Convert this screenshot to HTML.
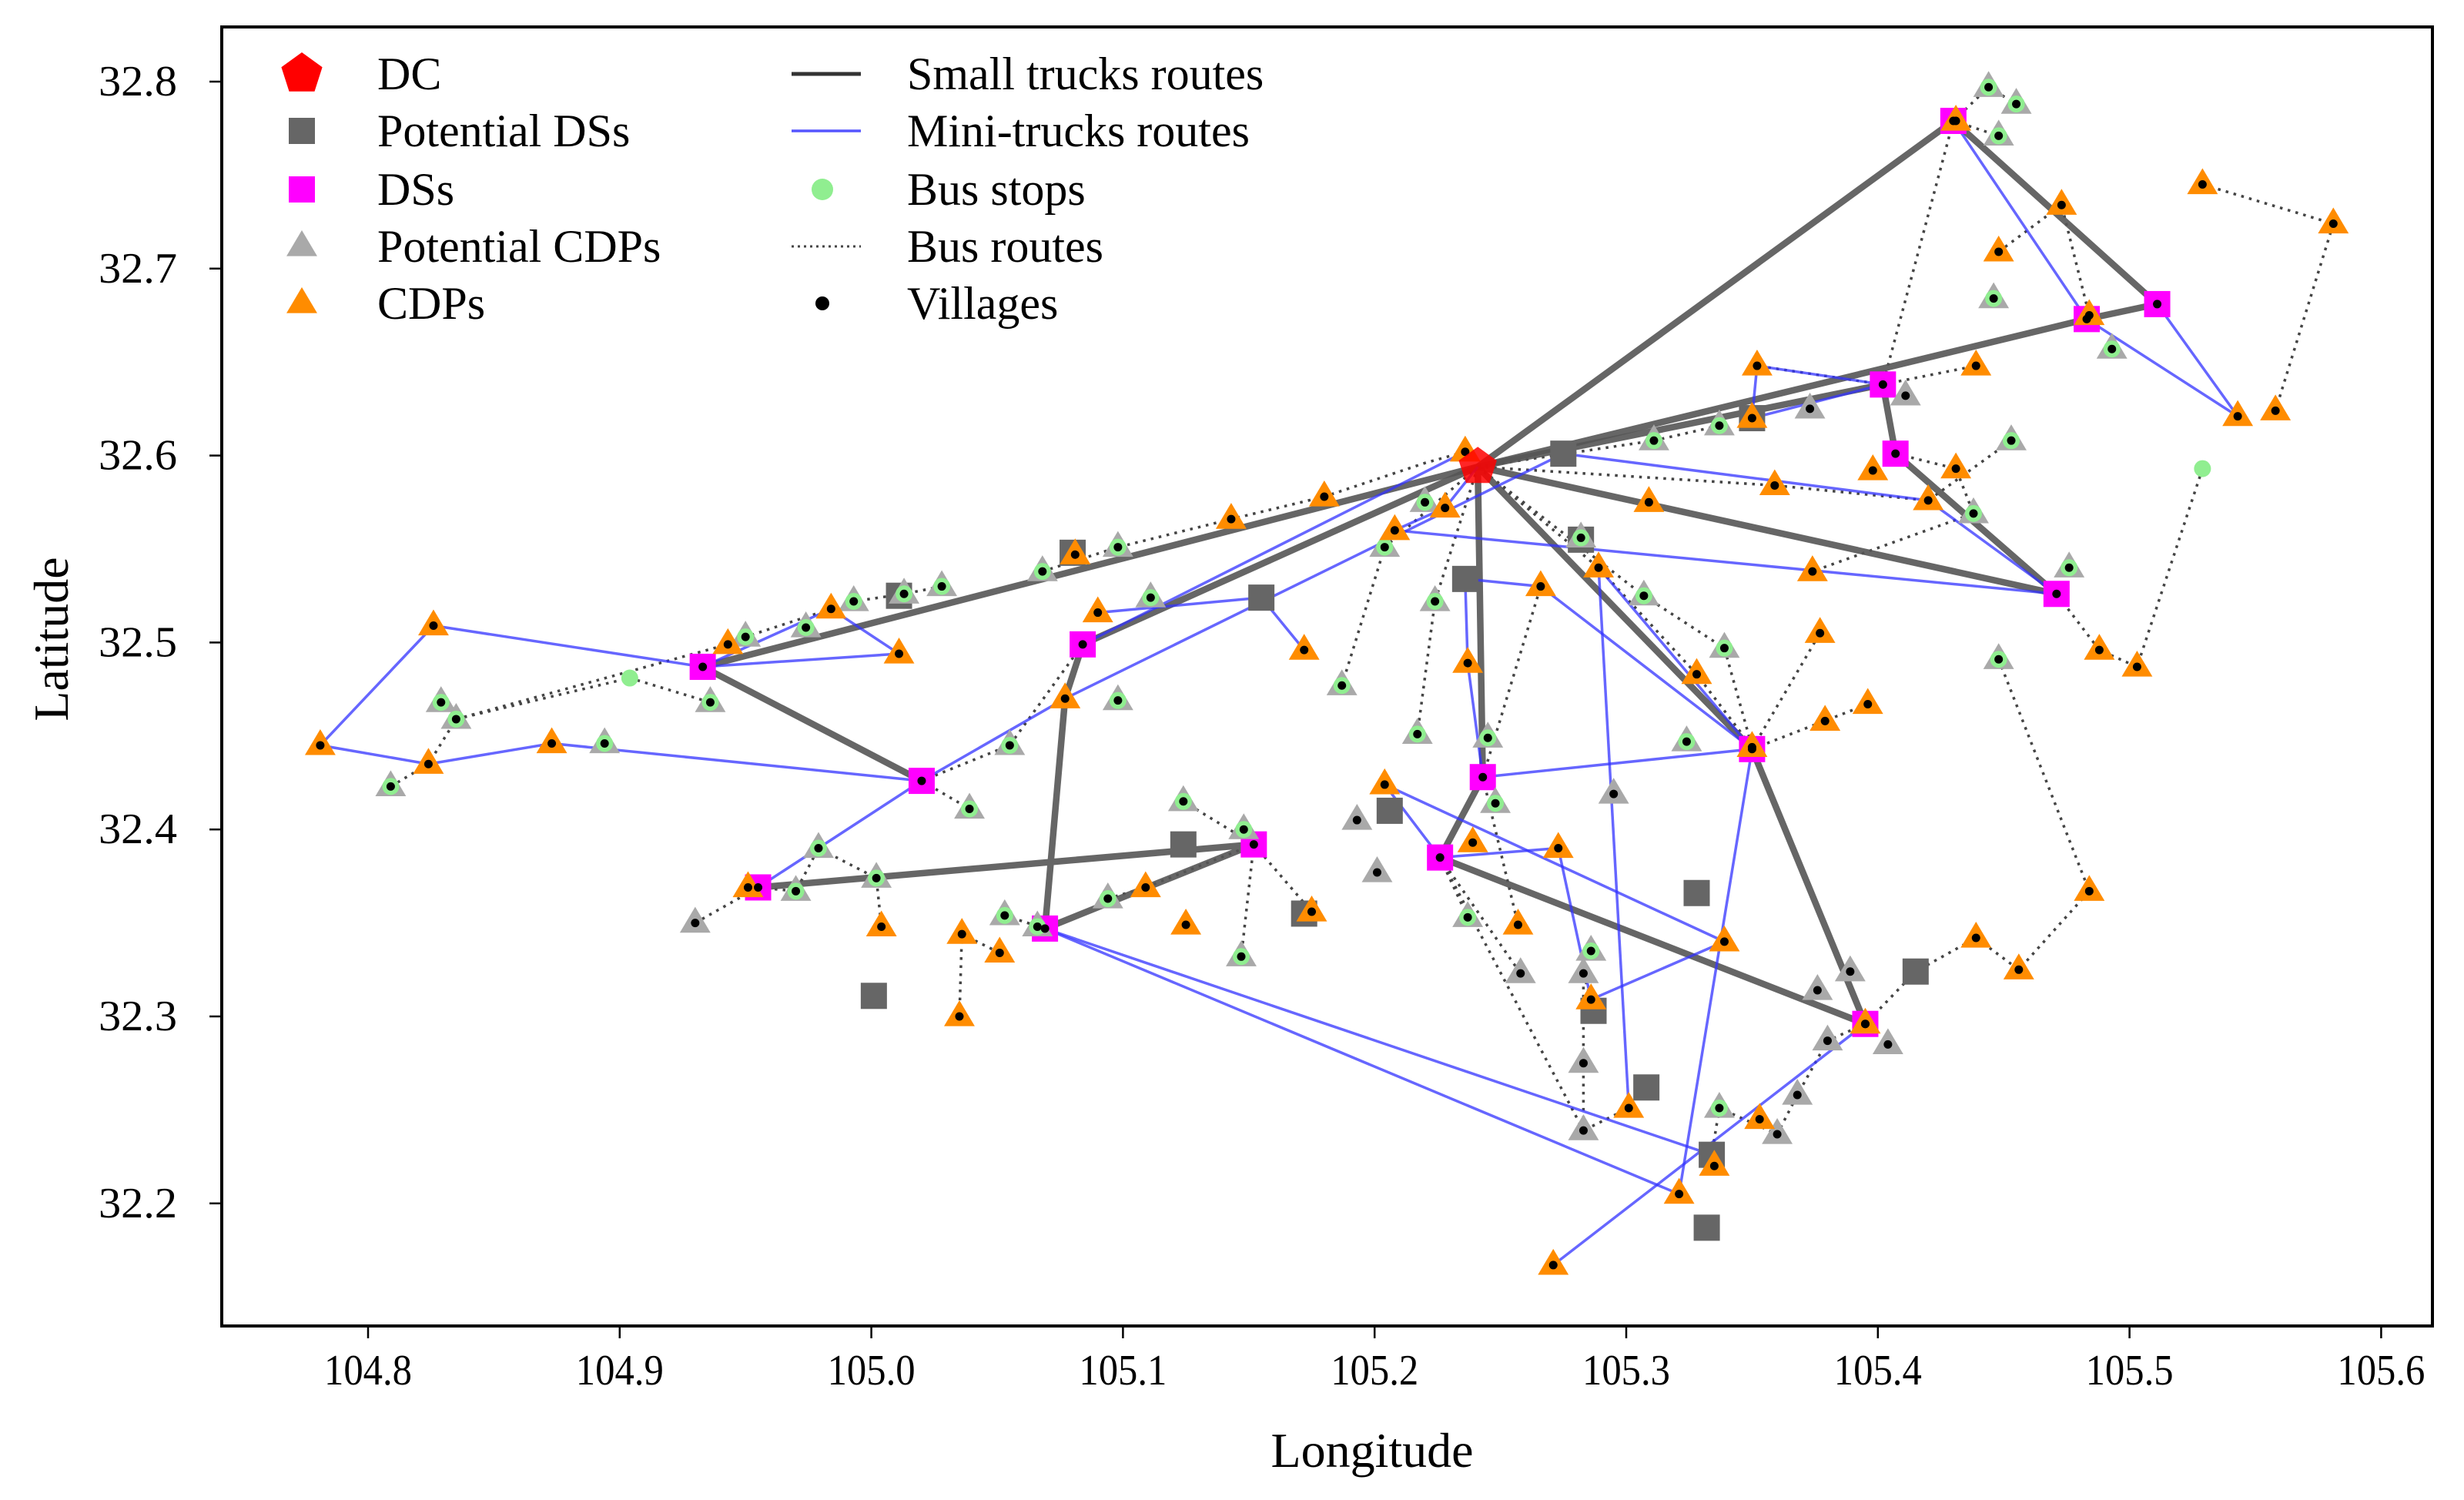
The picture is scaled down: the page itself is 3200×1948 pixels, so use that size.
<!DOCTYPE html>
<html><head><meta charset="utf-8">
<style>
html,body{margin:0;padding:0;background:#fff;}
svg{display:block;font-family:"Liberation Serif","DejaVu Serif",serif;}
</style></head>
<body>
<svg id="chart" width="3200" height="1948" viewBox="0 0 3200 1948" xmlns="http://www.w3.org/2000/svg">
<rect x="0" y="0" width="3200" height="1948" fill="#fff"/>
<g id="plot"></g>
<g id="axes"></g>
<g id="legend"></g>
</svg>
<script>
const xTicks=[104.8,104.9,105.0,105.1,105.2,105.3,105.4,105.5,105.6];
const xTickLabels=["104.8","104.9","105.0","105.1","105.2","105.3","105.4","105.5","105.6"];
const yTicks=[32.2,32.3,32.4,32.5,32.6,32.7,32.8];
const yTickLabels=["32.2","32.3","32.4","32.5","32.6","32.7","32.8"];
const dcPoint=[105.241,32.594];
const dsPoints=[[105.430,32.779],[105.511,32.681],[105.483,32.673],[105.402,32.638],[105.407,32.601],[105.471,32.526],[104.933,32.487],[105.020,32.426],[105.084,32.499],[105.350,32.443],[105.243,32.428],[105.226,32.385],[105.152,32.392],[104.955,32.369],[105.069,32.347],[105.395,32.296]];
const potentialDsPoints=[[105.080,32.548],[105.011,32.525],[105.155,32.524],[105.275,32.601],[105.282,32.555],[105.236,32.534],[105.350,32.620],[105.206,32.410],[105.124,32.392],[105.172,32.355],[105.328,32.366],[105.001,32.311],[105.287,32.303],[105.415,32.324],[105.308,32.262],[105.334,32.226],[105.332,32.187]];
const cdpPoints=[[104.781,32.445],[104.826,32.509],[104.824,32.435],[104.873,32.446],[104.943,32.499],[104.984,32.518],[105.011,32.494],[104.951,32.369],[105.004,32.348],[105.036,32.344],[105.051,32.334],[105.035,32.300],[105.081,32.547],[105.090,32.516],[105.077,32.470],[105.109,32.369],[105.125,32.349],[105.175,32.356],[105.143,32.566],[105.180,32.578],[105.208,32.560],[105.172,32.496],[105.236,32.602],[105.228,32.572],[105.204,32.424],[105.237,32.489],[105.266,32.530],[105.239,32.393],[105.273,32.390],[105.257,32.349],[105.289,32.540],[105.309,32.575],[105.359,32.584],[105.374,32.538],[105.352,32.648],[105.350,32.444],[105.328,32.483],[105.377,32.505],[105.379,32.458],[105.396,32.467],[105.398,32.592],[105.420,32.576],[105.431,32.593],[105.439,32.648],[105.448,32.709],[105.473,32.734],[105.529,32.745],[105.581,32.724],[105.543,32.621],[105.558,32.624],[105.488,32.496],[105.503,32.487],[105.484,32.367],[105.439,32.342],[105.456,32.325],[105.339,32.340],[105.286,32.309],[105.301,32.251],[105.321,32.205],[105.335,32.220],[105.353,32.245],[105.271,32.167],[105.431,32.779],[105.484,32.675],[105.350,32.620],[105.395,32.296]];
const potentialCdpPoints=[[104.809,32.423],[104.829,32.468],[104.835,32.459],[104.894,32.446],[104.936,32.468],[104.950,32.503],[104.974,32.508],[104.993,32.522],[105.013,32.526],[105.028,32.530],[105.039,32.411],[104.979,32.390],[104.970,32.367],[105.002,32.374],[104.930,32.350],[105.053,32.354],[105.066,32.348],[105.055,32.445],[105.098,32.469],[105.111,32.524],[105.098,32.551],[105.068,32.538],[105.124,32.415],[105.148,32.400],[105.147,32.332],[105.094,32.363],[105.187,32.477],[105.193,32.405],[105.201,32.377],[105.217,32.451],[105.224,32.522],[105.237,32.353],[105.245,32.449],[105.248,32.414],[105.258,32.323],[105.283,32.323],[105.286,32.335],[105.283,32.275],[105.283,32.239],[105.295,32.419],[105.307,32.525],[105.324,32.447],[105.339,32.497],[105.311,32.608],[105.337,32.616],[105.373,32.625],[105.411,32.632],[105.453,32.608],[105.438,32.569],[105.476,32.540],[105.448,32.491],[105.444,32.797],[105.455,32.788],[105.448,32.771],[105.446,32.684],[105.493,32.657],[105.376,32.314],[105.389,32.324],[105.404,32.285],[105.380,32.287],[105.368,32.258],[105.360,32.237],[105.337,32.251],[105.204,32.551],[105.220,32.575],[105.282,32.556]];
const potentialCdpBusStop=[1,1,1,1,1,1,1,1,1,1,1,1,1,1,0,1,1,1,1,1,1,1,1,1,1,1,1,0,0,1,1,1,1,1,0,0,1,0,0,0,1,1,1,1,1,0,0,1,1,1,1,1,1,1,1,1,0,0,0,0,0,0,1,1,1,1];
const extraBusStops=[[104.904,32.481],[105.529,32.593]];
const smallTruckRoutes=[
 [[105.241,32.594],[105.430,32.779],[105.511,32.681],[105.483,32.673],[105.241,32.594]],
 [[105.241,32.594],[105.402,32.638],[105.407,32.601],[105.471,32.526],[105.241,32.594]],
 [[105.241,32.594],[105.350,32.443],[105.395,32.296],[105.226,32.385],[105.243,32.428],[105.241,32.594]],
 [[105.241,32.594],[104.933,32.487],[105.020,32.426]],
 [[105.241,32.594],[105.084,32.499],[105.077,32.470],[105.069,32.347],[105.152,32.392],[104.955,32.369]]];
const miniTruckRoutes=[
 [[105.430,32.779],[105.483,32.673],[105.543,32.621],[105.511,32.681]],
 [[105.402,32.638],[105.352,32.648],[105.350,32.620],[105.402,32.638]],
 [[105.275,32.601],[105.420,32.576],[105.471,32.526]],
 [[105.241,32.594],[105.228,32.572],[105.208,32.560],[105.471,32.526]],
 [[105.236,32.534],[105.266,32.530],[105.350,32.443]],
 [[105.236,32.534],[105.237,32.489],[105.243,32.428],[105.350,32.443]],
 [[105.289,32.540],[105.350,32.443]],
 [[105.289,32.540],[105.301,32.251]],
 [[105.350,32.443],[105.321,32.205]],
 [[105.204,32.424],[105.226,32.385],[105.273,32.390],[105.286,32.309],[105.339,32.340]],
 [[105.204,32.424],[105.339,32.340]],
 [[105.395,32.296],[105.271,32.167]],
 [[105.069,32.347],[105.334,32.226]],
 [[105.069,32.347],[105.321,32.205]],
 [[105.090,32.516],[105.155,32.524],[105.172,32.496]],
 [[105.275,32.601],[105.077,32.470],[105.020,32.426],[104.955,32.369]],
 [[105.236,32.602],[105.084,32.499]],
 [[104.933,32.487],[104.826,32.509],[104.781,32.445],[104.824,32.435],[104.873,32.446],[105.020,32.426]],
 [[104.933,32.487],[104.984,32.518],[105.011,32.494],[104.933,32.487]]];
const busRoutes=[
 [[104.809,32.423],[104.824,32.435],[104.835,32.459],[104.904,32.481],[104.936,32.468]],
 [[104.835,32.459],[104.943,32.499],[104.950,32.503],[104.984,32.518],[104.993,32.522],[105.013,32.526],[105.028,32.530]],
 [[105.068,32.538],[105.098,32.551],[105.143,32.566],[105.180,32.578],[105.220,32.596],[105.236,32.602]],
 [[105.241,32.594],[105.204,32.551],[105.187,32.477]],
 [[105.241,32.594],[105.224,32.522],[105.217,32.451]],
 [[105.241,32.594],[105.289,32.540],[105.328,32.483],[105.350,32.444]],
 [[105.241,32.594],[105.359,32.584],[105.420,32.576],[105.453,32.608]],
 [[105.241,32.594],[105.311,32.608],[105.337,32.616]],
 [[105.430,32.779],[105.444,32.797],[105.455,32.788]],
 [[105.430,32.779],[105.448,32.771]],
 [[105.430,32.779],[105.402,32.638]],
 [[105.529,32.745],[105.581,32.724],[105.558,32.624]],
 [[105.448,32.709],[105.473,32.734],[105.484,32.675]],
 [[105.529,32.593],[105.503,32.487],[105.488,32.496],[105.471,32.526]],
 [[105.448,32.491],[105.484,32.367],[105.456,32.325],[105.439,32.342],[105.415,32.324],[105.395,32.296]],
 [[105.350,32.443],[105.377,32.505]],
 [[105.350,32.443],[105.396,32.467]],
 [[105.243,32.428],[105.266,32.530]],
 [[105.243,32.428],[105.257,32.349]],
 [[105.152,32.392],[105.147,32.332]],
 [[105.152,32.392],[105.175,32.356]],
 [[105.152,32.392],[105.124,32.415]],
 [[105.152,32.392],[105.109,32.369],[105.094,32.363]],
 [[105.020,32.426],[105.039,32.411]],
 [[105.035,32.300],[105.036,32.344],[105.051,32.334]],
 [[105.226,32.385],[105.237,32.353]],
 [[105.226,32.385],[105.258,32.323]],
 [[105.226,32.385],[105.283,32.239]],
 [[105.286,32.309],[105.283,32.323],[105.283,32.275],[105.283,32.239],[105.301,32.251]],
 [[105.395,32.296],[105.380,32.287],[105.368,32.258],[105.360,32.237],[105.337,32.251],[105.334,32.226]],
 [[104.930,32.350],[104.955,32.369],[104.970,32.367],[104.979,32.390],[105.002,32.374],[105.004,32.348]],
 [[105.402,32.638],[105.352,32.648]],
 [[105.402,32.638],[105.439,32.648]],
 [[105.407,32.601],[105.431,32.593],[105.438,32.569],[105.374,32.538]],
 [[105.241,32.594],[105.307,32.525],[105.339,32.497],[105.350,32.444]],
 [[105.069,32.347],[105.053,32.354]],
 [[105.084,32.499],[105.055,32.445],[105.020,32.426]]];

const NS="http://www.w3.org/2000/svg";
const X0=288,X1=3159,Y0=35,Y1=1722;
function sx(v){return 478+(v-104.8)/0.1*326.8;}
function sy(v){return 106+(32.8-v)/0.1*242.8;}
function mk(tag,attrs,parent){const e=document.createElementNS(NS,tag);for(const k in attrs)e.setAttribute(k,attrs[k]);parent.appendChild(e);return e;}
const plot=document.getElementById('plot'),axes=document.getElementById('axes'),legend=document.getElementById('legend');
function pts(route){return route.map(p=>sx(p[0]).toFixed(1)+','+sy(p[1]).toFixed(1)).join(' ');}
function tri(x,y,s){return `${x},${y-s} ${x-s*0.95},${y+s*0.6} ${x+s*0.95},${y+s*0.6}`;}
function pent(x,y,r){let a=[];for(let i=0;i<5;i++){const t=-Math.PI/2+i*2*Math.PI/5;a.push((x+r*Math.cos(t)).toFixed(1)+','+(y+r*Math.sin(t)).toFixed(1));}return a.join(' ');}

busRoutes.forEach(r=>{const e=mk('polyline',{points:pts(r),fill:'none',stroke:'#444','stroke-width':3.5,'stroke-dasharray':'3.5 7'},plot);

});
smallTruckRoutes.forEach(r=>{const e=mk('polyline',{points:pts(r),fill:'none',stroke:'#555','stroke-width':8.5,'stroke-opacity':0.9,'stroke-linejoin':'round'},plot);

});
miniTruckRoutes.forEach(r=>{const e=mk('polyline',{points:pts(r),fill:'none',stroke:'#3333ff','stroke-width':3.5,'stroke-opacity':0.75},plot);

});
potentialDsPoints.forEach(p=>{const x=sx(p[0]),y=sy(p[1]);const e=mk('rect',{x:x-17,y:y-17,width:34,height:34,fill:'#666'},plot);

});
dsPoints.forEach(p=>{const x=sx(p[0]),y=sy(p[1]);const e=mk('rect',{x:x-17,y:y-17,width:34,height:34,fill:'#ff00ff'},plot);

});
potentialCdpPoints.forEach((p,i)=>{const x=sx(p[0]),y=sy(p[1]);const e=mk('polygon',{points:tri(x,y,21),fill:'#a9a9a9'},plot);


if(potentialCdpBusStop[i]){const b=mk('circle',{cx:x,cy:y,r:11,fill:'#90ee90'},plot);

}});
cdpPoints.forEach(p=>{const x=sx(p[0]),y=sy(p[1]);const e=mk('polygon',{points:tri(x,y,21),fill:'#ff8c00'},plot);

});
extraBusStops.forEach(p=>{const b=mk('circle',{cx:sx(p[0]),cy:sy(p[1]),r:11,fill:'#90ee90'},plot);

});
[potentialCdpPoints,cdpPoints,dsPoints].forEach(arr=>arr.forEach(p=>{const v=mk('circle',{cx:sx(p[0]),cy:sy(p[1]),r:5.5,fill:'#000'},plot);

}));
{const e=mk('polygon',{points:pent(sx(dcPoint[0]),sy(dcPoint[1]),26),fill:'#ff0000','fill-opacity':0.85},plot);

}

{const f=mk('rect',{x:X0,y:Y0,width:X1-X0,height:Y1-Y0,fill:'none',stroke:'#000','stroke-width':4},axes);

}
xTicks.forEach((v,i)=>{const x=sx(v);
const t=mk('line',{x1:x,y1:Y1,x2:x,y2:Y1+16,stroke:'#000','stroke-width':2.5},axes);


const l=mk('text',{x:x,y:Y1+76,'text-anchor':'middle','font-size':56,textLength:114,lengthAdjust:'spacingAndGlyphs'},axes);l.textContent=xTickLabels[i];

});
yTicks.forEach((v,i)=>{const y=sy(v);
const t=mk('line',{x1:X0-16,y1:y,x2:X0,y2:y,stroke:'#000','stroke-width':2.5},axes);


const l=mk('text',{x:128,y:y+18,'text-anchor':'start','font-size':56,textLength:102,lengthAdjust:'spacingAndGlyphs'},axes);l.textContent=yTickLabels[i];

});
{const t=mk('text',{x:1782,y:1905,'text-anchor':'middle','font-size':64},axes);t.textContent='Longitude';

}
{const t=mk('text',{x:0,y:0,'text-anchor':'middle','font-size':64,transform:'translate(88,830) rotate(-90)'},axes);t.textContent='Latitude';

}

const rows=[96,170,246,320,394];
function ltext(x,y,s,name){const t=mk('text',{x:x,y:y+20,'font-size':60},legend);t.textContent=s;

}
{const e=mk('polygon',{points:pent(392,rows[0],28),fill:'#ff0000'},legend);

}
ltext(490,rows[0],'DC','legend-dc-label');
{const e=mk('rect',{x:375,y:rows[1]-17,width:34,height:34,fill:'#666'},legend);

}
ltext(490,rows[1],'Potential DSs','legend-potential-ds-label');
{const e=mk('rect',{x:375,y:rows[2]-17,width:34,height:34,fill:'#ff00ff'},legend);

}
ltext(490,rows[2],'DSs','legend-ds-label');
{const e=mk('polygon',{points:tri(392,rows[3],21),fill:'#a9a9a9'},legend);

}
ltext(490,rows[3],'Potential CDPs','legend-potential-cdp-label');
{const e=mk('polygon',{points:tri(392,rows[4],21),fill:'#ff8c00'},legend);

}
ltext(490,rows[4],'CDPs','legend-cdp-label');
{const e=mk('line',{x1:1028,y1:rows[0],x2:1118,y2:rows[0],stroke:'#333','stroke-width':5},legend);

}
ltext(1178,rows[0],'Small trucks routes','legend-small-truck-label');
{const e=mk('line',{x1:1028,y1:rows[1],x2:1118,y2:rows[1],stroke:'#5555ff','stroke-width':3.5},legend);

}
ltext(1178,rows[1],'Mini-trucks routes','legend-mini-truck-label');
{const e=mk('circle',{cx:1068,cy:rows[2],r:14,fill:'#90ee90'},legend);

}
ltext(1178,rows[2],'Bus stops','legend-bus-stop-label');
{const e=mk('line',{x1:1028,y1:rows[3],x2:1118,y2:rows[3],stroke:'#444','stroke-width':3,'stroke-dasharray':'3 5'},legend);

}
ltext(1178,rows[3],'Bus routes','legend-bus-route-label');
{const e=mk('circle',{cx:1068,cy:rows[4],r:9,fill:'#000'},legend);

}
ltext(1178,rows[4],'Villages','legend-village-label');
</script>
</body></html>
